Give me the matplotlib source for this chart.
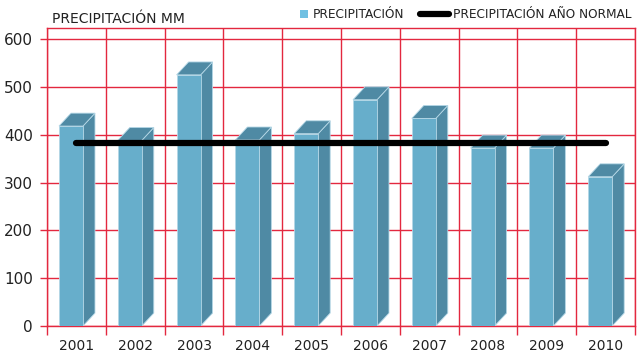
import numpy as np
import matplotlib.pyplot as plt
from matplotlib.patches import Polygon, Patch, Rectangle
from matplotlib.lines import Line2D
from matplotlib.legend_handler import HandlerPatch

# datos
years = ['2001', '2002', '2003', '2004', '2005', '2006', '2007', '2008', '2009', '2010']
precipitacion = [418, 388, 525, 389, 402, 473, 434, 372, 372, 312]
normal = [382] * len(years)

RED = '#E3283F'
FRONT = '#67AECB'
SIDE = '#4F8AA4'
EDGE = '#B4D7E6'

fig = plt.figure(figsize=(6.38, 3.54), dpi=100)
ax = fig.add_axes([47 / 638, 28 / 354, 588 / 638, 298 / 354])

x = np.arange(len(years))
x0_off, x1_off = -0.296, 0.112   # cara frontal
dx, dy = 0.204, 27               # profundidad del efecto 3D

for i, v in zip(x, precipitacion):
    a, b = i + x0_off, i + x1_off
    front = Polygon([(a, 0), (b, 0), (b, v), (a, v)], closed=True,
                    facecolor=FRONT, edgecolor=EDGE, lw=0.6, zorder=3)
    side = Polygon([(b, 0), (b + dx, dy), (b + dx, v + dy), (b, v)], closed=True,
                   facecolor=SIDE, edgecolor=EDGE, lw=0.6, zorder=3)
    top = Polygon([(a, v), (b, v), (b + dx, v + dy), (a + dx, v + dy)], closed=True,
                  facecolor=SIDE, edgecolor=EDGE, lw=0.6, zorder=3)
    ax.add_patch(side)
    ax.add_patch(top)
    ax.add_patch(front)

ax.plot(x, normal, color='black', lw=4.5, solid_capstyle='round', zorder=5)

ax.set_xlim(-0.5, len(years) - 0.5)
ax.set_ylim(0, 623)

ax.set_yticks(np.arange(0, 601, 100))
ax.set_xticks(x, labels=years)
ax.set_xticks(np.arange(-0.5, len(years)), minor=True)

ax.tick_params(axis='y', colors=RED, length=5, width=1, pad=5,
               labelcolor='#222222', labelsize=11)
ax.tick_params(axis='x', which='major', length=0, pad=9,
               labelcolor='#222222', labelsize=10)
ax.tick_params(axis='x', which='minor', colors=RED, length=6.5, width=1)

ax.set_axisbelow(True)
ax.grid(axis='y', which='major', color=RED, lw=1)
ax.grid(axis='x', which='minor', color=RED, lw=1)
for s in ax.spines.values():
    s.set_color(RED)
    s.set_linewidth(1)

ax.text(0.009, 1.008, 'PRECIPITACIÓN MM', transform=ax.transAxes,
        ha='left', va='bottom', fontsize=10, color='#222222')


# cuadradito de la leyenda pegado al texto
def square_patch(legend, orig_handle, xdescent, ydescent, width, height, fontsize):
    s = 6
    return Rectangle((-xdescent + width - s, -ydescent + (height - s) / 2), s, s)


sq = Patch(facecolor='#70C0E2', edgecolor='none')
ln = Line2D([0], [0], color='black', lw=4.5, solid_capstyle='round')
fig.legend([sq, ln], ['PRECIPITACIÓN', 'PRECIPITACIÓN AÑO NORMAL'],
           loc='center right', bbox_to_anchor=(1.0, 1 - 15 / 354), ncol=2,
           frameon=False, fontsize=8.7, handlelength=2.45, handleheight=0.8,
           handletextpad=0.35, columnspacing=1.3, borderaxespad=0.1,
           labelcolor='#222222',
           handler_map={sq: HandlerPatch(patch_func=square_patch)})

fig.savefig('out.png', dpi=100)
